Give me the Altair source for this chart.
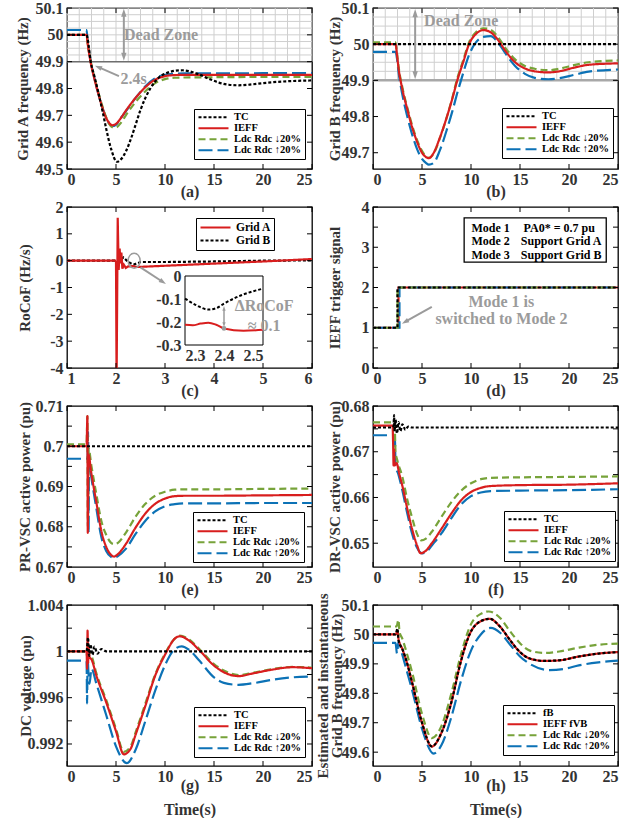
import math
import altair as alt
import pandas as pd

FONT = "Liberation Serif"
W, H = 245, 161
GRAY = "#9b9b9b"
TXT = "#333333"

COLORS = ["#000000", "#d81e1e", "#77a33a", "#0c72b6"]
DASHES = [[3, 2], [1, 0], [7, 4], [14, 5]]
WIDTHS = [2.2, 2.2, 2.4, 2.4]
ORDER = [3, 2, 1, 0]

NAMES = ["TC", "IEFF", "Ldc Rdc ↓20%", "Ldc Rdc ↑20%"]
NAMES_H = ["fB", "IEFF  fVB", "Ldc Rdc ↓20%", "Ldc Rdc ↑20%"]
NAMES_C = ["Grid A", "Grid B"]

# ---------------- tick / label lists ----------------
X25 = [0, 5, 10, 15, 20, 25]
X16 = [1, 2, 3, 4, 5, 6]
A_YL = [49.5, 49.6, 49.7, 49.8, 49.9, 50, 50.1]
B_YL = [49.7, 49.8, 49.9, 50, 50.1]
C_YL = [-4, -3, -2, -1, 0, 1, 2]
D_YL = [0, 1, 2, 3, 4]
D_YT = [0, 0.5, 1, 1.5, 2, 2.5, 3, 3.5, 4]
E_YL = [0.67, 0.68, 0.69, 0.7, 0.71]
E_YT = [0.67, 0.675, 0.68, 0.685, 0.69, 0.695, 0.7, 0.705, 0.71]
F_YL = [0.65, 0.66, 0.67, 0.68]
F_YT = [0.65, 0.655, 0.66, 0.665, 0.67, 0.675, 0.68]
G_YL = [0.992, 0.996, 1, 1.004]
G_YT = [0.992, 0.994, 0.996, 0.998, 1, 1.002, 1.004]
H_YL = [49.6, 49.7, 49.8, 49.9, 50, 50.1]
GRID_T = [0, 1.25, 2.5, 3.75, 5, 6.25, 7.5, 8.75, 10, 11.25, 12.5, 13.75, 15,
          16.25, 17.5, 18.75, 20, 21.25, 22.5, 23.75, 25]
GRID_F = [49.9, 49.925, 49.95, 49.975, 50.0, 50.025, 50.05, 50.075, 50.1]

# ---------------- (a) Grid A frequency ----------------
A_T_TC = [0, 2.0, 2.15, 2.4, 2.8, 3.2, 3.6, 4.0, 4.5, 5.1, 5.6, 6.0, 6.5, 7.0, 7.5, 8.0,
          8.5, 9.0, 9.5, 10, 11, 11.8, 12.5, 13.5, 14.5, 15.5, 16.5, 17.5, 18.5, 20, 22, 25]
A_TC = [50.0, 50.0, 49.975, 49.905, 49.845, 49.785, 49.72, 49.65, 49.575, 49.527, 49.54,
        49.565, 49.61, 49.665, 49.72, 49.765, 49.80, 49.826, 49.845, 49.855, 49.866,
        49.868, 49.864, 49.852, 49.836, 49.822, 49.814, 49.812, 49.814, 49.82, 49.826, 49.83]
A_T = [0, 2.0, 2.1, 2.4, 2.8, 3.2, 3.6, 4.0, 4.3, 4.6, 5.0, 5.5, 6.0, 7.0, 8.0, 9.0, 10.0,
       11.0, 12.0, 15, 20, 25]
A_IEFF = [50.0, 50.0, 49.97, 49.9, 49.835, 49.78, 49.73, 49.69, 49.672, 49.663, 49.668,
          49.69, 49.717, 49.765, 49.805, 49.833, 49.846, 49.85, 49.851, 49.851, 49.851, 49.851]
A_DN = [50.0, 50.0, 49.97, 49.905, 49.84, 49.785, 49.735, 49.692, 49.668, 49.656, 49.655,
        49.672, 49.70, 49.75, 49.79, 49.82, 49.835, 49.84, 49.841, 49.842, 49.843, 49.843]
A_UP = [50.018, 50.018, 49.98, 49.905, 49.838, 49.78, 49.73, 49.69, 49.67, 49.66, 49.665,
        49.69, 49.715, 49.765, 49.808, 49.838, 49.851, 49.855, 49.856, 49.856, 49.857, 49.857]

# ---------------- (b) Grid B frequency ----------------
B_T_TC = [0, 25]
B_TC = [50.0, 50.0]
B_T = [0, 2.3, 2.45, 2.6, 3.0, 3.5, 4.0, 4.5, 5.0, 5.4, 5.7, 6.2, 6.8, 7.55, 8.1, 8.6, 9.2,
       9.8, 10.5, 11.25, 12.0, 12.75, 13.5, 14.5, 15.5, 16.5, 17.9, 19.0, 20.5, 22.0, 25.0]
B_IEFF = [50.0, 50.0, 49.97, 49.935, 49.875, 49.82, 49.77, 49.73, 49.70, 49.688, 49.685,
          49.70, 49.74, 49.80, 49.85, 49.90, 49.95, 50.0, 50.028, 50.039, 50.033, 50.012,
          49.982, 49.95, 49.933, 49.925, 49.922, 49.925, 49.935, 49.943, 49.947]
B_DN = [50.005, 50.005, 49.975, 49.94, 49.88, 49.825, 49.775, 49.735, 49.705, 49.69, 49.686,
        49.698, 49.738, 49.80, 49.852, 49.905, 49.955, 50.005, 50.033, 50.044, 50.04, 50.02,
        49.99, 49.958, 49.94, 49.932, 49.928, 49.932, 49.942, 49.95, 49.955]
B_UP = [49.979, 49.979, 49.96, 49.925, 49.86, 49.80, 49.75, 49.71, 49.683, 49.672, 49.667,
        49.672, 49.705, 49.765, 49.815, 49.865, 49.92, 49.97, 50.005, 50.02, 50.022, 50.005,
        49.975, 49.94, 49.918, 49.907, 49.903, 49.906, 49.915, 49.924, 49.93]

# ---------------- (c) RoCoF ----------------
C_T_A = [1.0, 2.0, 2.012, 2.035, 2.055, 2.075, 2.09, 2.11, 2.13, 2.16, 2.2, 2.25, 2.3, 2.35,
         2.4, 2.5, 3.0, 4.0, 5.0, 6.0]
C_A = [0, 0, -4.6, 1.6, -0.35, 0.45, -0.1, 0.3, -0.3, -0.15, -0.27, -0.21, -0.21, -0.2,
       -0.23, -0.23, -0.19, -0.11, -0.03, 0.06]
C_T_B = [1.0, 2.08, 2.15, 2.22, 2.3, 2.36, 2.4, 2.5, 3.0, 4.0, 5.0, 6.0]
C_B = [0, 0, 0.12, 0.0, -0.1, -0.145, -0.12, -0.05, -0.05, -0.03, 0.0, 0.01]
CI_T_A = [2.3, 2.32, 2.34, 2.36, 2.38, 2.4, 2.45, 2.5]
CI_A = [-0.212, -0.214, -0.207, -0.203, -0.212, -0.228, -0.238, -0.234]
CI_T_B = [2.3, 2.33, 2.36, 2.38, 2.4, 2.45, 2.5]
CI_B = [-0.098, -0.128, -0.146, -0.14, -0.12, -0.08, -0.055]

# ---------------- (d) IEFF trigger ----------------
D_T_TC, D_TC = [0, 2.5, 25], [1, 2, 2]
D_T_IEFF, D_IEFF = [0, 2.6, 25], [1, 2, 2]
D_T_DN, D_DN = [0, 2.5, 25], [1, 2, 2]
D_T_UP, D_UP = [0, 2.7, 25], [1, 2, 2]

# ---------------- (e) PR-VSC power ----------------
E_T_TC, E_TC = [0, 25], [0.70, 0.70]
E_T_IEFF = [0, 2.0, 2.08, 2.12, 2.18, 2.5, 3.0, 3.5, 4.0, 4.5, 4.8, 5.2, 6.0, 7.0, 8.0, 9.0,
            10.0, 11.0, 12.0, 15, 20, 25]
E_IEFF = [0.700, 0.700, 0.7075, 0.6785, 0.698, 0.693, 0.686, 0.679, 0.675, 0.673, 0.6726,
          0.6732, 0.6757, 0.6798, 0.6833, 0.6857, 0.687, 0.6876, 0.6877, 0.6877, 0.6878, 0.6879]
E_T_DN = [0, 2.0, 2.08, 2.13, 2.2, 2.5, 3.0, 3.5, 4.0, 4.5, 4.8, 5.2, 6.0, 7.0, 8.0, 9.0,
          10.0, 11.0, 12.0, 15, 20, 25]
E_DN = [0.7005, 0.7005, 0.7075, 0.680, 0.6995, 0.695, 0.688, 0.6815, 0.678, 0.676, 0.6757,
        0.676, 0.6785, 0.6825, 0.6857, 0.6877, 0.6887, 0.6892, 0.6893, 0.6893, 0.6894, 0.6895]
E_T_UP = [0, 2.1, 2.15, 2.2, 2.25, 2.5, 3.0, 3.5, 4.0, 4.5, 4.8, 5.2, 6.0, 7.0, 8.0, 9.0,
          10.0, 11.0, 12.0, 15, 20, 25]
E_UP = [0.6969, 0.6969, 0.7035, 0.6784, 0.696, 0.692, 0.6845, 0.6775, 0.674, 0.6725, 0.6722,
        0.6727, 0.6745, 0.6782, 0.6815, 0.6838, 0.6851, 0.6856, 0.6858, 0.6858, 0.6859, 0.6859]

# ---------------- (f) DR-VSC power ----------------
F_T_TC = [0, 2.0, 2.1, 2.15, 2.2, 2.3, 2.45, 2.6, 2.8, 3.0, 3.3, 3.6, 4.0, 25]
F_TC = [0.6753, 0.6753, 0.6757, 0.678, 0.6745, 0.677, 0.674, 0.6765, 0.6745, 0.676, 0.6748,
        0.6755, 0.6753, 0.6753]
F_T_IEFF = [0, 2.0, 2.05, 2.1, 2.15, 2.2, 2.4, 2.7, 3.0, 3.5, 4.0, 4.5, 4.85, 5.3, 6.0, 7.0,
            8.0, 9.0, 10.0, 11.0, 12.0, 15, 20, 25]
F_IEFF = [0.6757, 0.6757, 0.672, 0.667, 0.6705, 0.667, 0.6675, 0.665, 0.6625, 0.6575, 0.653,
          0.6495, 0.6478, 0.6482, 0.650, 0.6532, 0.6565, 0.6594, 0.6612, 0.6621, 0.6625,
          0.6627, 0.6628, 0.6631]
F_T_DN = [0, 2.2, 2.3, 2.5, 3.0, 3.5, 4.0, 4.5, 4.9, 5.4, 6.0, 7.0, 8.0, 9.0, 10.0, 11.0,
          12.0, 15, 20, 25]
F_DN = [0.6764, 0.6764, 0.670, 0.668, 0.6645, 0.6595, 0.6555, 0.652, 0.6506, 0.651, 0.6525,
        0.6558, 0.659, 0.6615, 0.6631, 0.664, 0.6643, 0.6644, 0.6645, 0.6646]
F_T_UP = [0, 2.2, 2.25, 2.3, 2.6, 3.0, 3.5, 4.0, 4.5, 5.0, 5.5, 6.0, 7.0, 8.0, 9.0, 10.0,
          11.0, 12.0, 15, 20, 25]
F_UP = [0.6736, 0.6736, 0.672, 0.667, 0.665, 0.6615, 0.6565, 0.652, 0.649, 0.6478, 0.6482,
        0.6495, 0.6522, 0.6555, 0.6585, 0.6603, 0.6611, 0.6614, 0.6615, 0.6616, 0.6618]

# ---------------- (g) DC voltage ----------------
G_T_TC = [0, 2.0, 2.15, 2.25, 2.4, 2.6, 2.8, 3.1, 3.5, 4.0, 25]
G_TC = [1.0, 1.0, 1.0012, 0.9996, 1.0006, 0.9997, 1.0004, 0.9998, 1.0002, 1.0, 1.0]
G_T = [0, 2.0, 2.05, 2.1, 2.15, 2.2, 2.3, 2.5, 3, 4, 5, 5.8, 6.5, 7, 8, 9, 10, 11, 11.5,
       12.5, 13.5, 15, 16, 17.5, 19, 21, 23, 25]
G_IEFF = [1.0, 1.0, 0.9985, 1.0018, 0.999, 1.0003, 0.9995, 0.9993, 0.9979, 0.9956, 0.9931,
          0.99111, 0.9916, 0.9928, 0.9953, 0.9979, 0.9997, 1.0011, 1.0013, 1.0009, 1.0001,
          0.99877, 0.9982, 0.99786, 0.9981, 0.99843, 0.99863, 0.99854]
G_DN = [1.0, 1.0, 0.9995, 1.0005, 0.9998, 1.0, 0.9998, 0.9996, 0.9981, 0.9958, 0.9933,
        0.99132, 0.9918, 0.993, 0.9955, 0.998, 0.9998, 1.0011, 1.00135, 1.001, 1.0002,
        0.9989, 0.99835, 0.99795, 0.99815, 0.99848, 0.99865, 0.9986]
G_T_UP = [0, 2.0, 2.05, 2.1, 2.2, 2.3, 2.5, 3, 4, 5, 6.1, 7, 8, 9, 10, 11, 11.7, 12.5, 13.5,
          15, 16, 17.5, 19, 21, 23, 25]
G_UP = [0.9992, 0.9992, 0.9955, 0.9995, 0.998, 0.9972, 0.9985, 0.9972, 0.9945, 0.9918,
        0.99034, 0.9915, 0.994, 0.9966, 0.9988, 1.0002, 1.00043, 1.0001, 0.9992, 0.99775,
        0.99728, 0.99711, 0.99725, 0.99755, 0.99775, 0.99783]

# ---------------- (h) estimated / instantaneous Grid B frequency ----------------
H_T = [0, 2.3, 2.5, 2.6, 3.0, 3.5, 4.0, 5.0, 6.0, 7.0, 8.0, 8.9, 9.85, 11.0, 11.9, 13.0,
       14.0, 15.0, 16.0, 17.5, 19.0, 21.0, 23.0, 25.0]
H_TC = [50.0, 50.0, 50.02, 49.98, 49.95, 49.90, 49.835, 49.70, 49.62, 49.667, 49.77, 49.9,
        50.0, 50.045, 50.053, 50.025, 49.98, 49.94, 49.918, 49.91, 49.912, 49.925, 49.935, 49.94]
H_IEFF = [50.0, 50.0, 50.01, 49.985, 49.95, 49.90, 49.835, 49.70, 49.619, 49.667, 49.77,
          49.9, 50.0, 50.045, 50.053, 50.025, 49.98, 49.94, 49.918, 49.91, 49.912, 49.925,
          49.935, 49.94]
H_T_DN = [0, 2.4, 2.6, 2.7, 3.0, 3.5, 4.0, 5.0, 6.0, 7.0, 8.0, 9.0, 10.0, 11.0, 11.8, 13.0,
          14.0, 15.0, 16.0, 17.5, 19.0, 21.0, 23.0, 25.0]
H_DN = [50.027, 50.027, 50.05, 50.01, 49.985, 49.93, 49.87, 49.73, 49.648, 49.69, 49.80,
        49.935, 50.035, 50.07, 50.078, 50.055, 50.01, 49.97, 49.945, 49.937, 49.942, 49.955,
        49.965, 49.969]
H_T_UP = [0, 2.3, 2.45, 2.6, 3.0, 3.5, 4.0, 5.0, 6.2, 7.0, 8.0, 9.0, 10.0, 11.0, 12.0, 13.0,
          14.0, 15.0, 16.0, 18.0, 19.5, 21.0, 23.0, 25.0]
H_UP = [49.971, 49.971, 49.935, 49.975, 49.93, 49.87, 49.81, 49.68, 49.595, 49.625, 49.72,
        49.845, 49.945, 50.0, 50.022, 50.005, 49.965, 49.925, 49.9, 49.879, 49.883, 49.895,
        49.905, 49.911]

# ---------------- annotation anchors (data units) ----------------
A_DZ = (5.8, 49.903, 5.8, 50.097)
A_DZ_TXT = (9.6, 50.0)
A_24 = (5.3, 49.846, 2.85, 49.885)
A_24_TXT = (6.8, 49.835)
B_DZ = (4.3, 49.903, 4.3, 50.097)
B_DZ_TXT = (9.0, 50.064)
C_ELL = (2.37, 0.0)
C_ARR = (2.5, -0.25, 3.02, -0.87)
CI_TXT = [(2.503, -0.13, "ΔRoCoF"), (2.503, -0.217, "≈ 0.1")]   # inset units
CI_DARR = (2.4, -0.13, 2.4, -0.222)
CI_DOT = (2.4, -0.228)
D_BOX = (9.3, 2.63, 23.8, 3.73)
D_TAB = [(12.0, 3.49, "Mode 1"), (19.0, 3.49, "PA0* = 0.7 pu"),
         (12.0, 3.15, "Mode 2"), (19.2, 3.15, "Support Grid A"),
         (12.0, 2.81, "Mode 3"), (19.2, 2.81, "Support Grid B")]
D_TXT = [(13.1, 1.63, "Mode 1 is"), (13.1, 1.21, "switched to Mode 2")]
D_ARR = (6.0, 1.52, 2.95, 1.10)

MINUS = "replace(datum.label, '\u2212', '-')"


class Frame:
    def __init__(self, xdom, ydom, xaxis, yaxis, xrange=None, yrange=None):
        self.xdom, self.ydom = xdom, ydom
        self.xaxis, self.yaxis = xaxis, yaxis
        self.custom = xrange is not None
        self.xr = xrange if xrange else [0, W]
        self.yr = yrange if yrange else [H, 0]

    def _sc(self, dom, rng):
        if self.custom:
            return alt.Scale(domain=dom, range=rng, nice=False, zero=False)
        return alt.Scale(domain=dom, nice=False, zero=False)

    def X(self):
        return alt.X("x:Q", scale=self._sc(self.xdom, self.xr), axis=self.xaxis)

    def Y(self):
        return alt.Y("y:Q", scale=self._sc(self.ydom, self.yr), axis=self.yaxis)

    def px(self, x, y):
        fx = (x - self.xdom[0]) / (self.xdom[1] - self.xdom[0])
        fy = (y - self.ydom[0]) / (self.ydom[1] - self.ydom[0])
        return (self.xr[0] + fx * (self.xr[1] - self.xr[0]),
                self.yr[0] + fy * (self.yr[1] - self.yr[0]))

    def inv(self, px, py):
        fx = (px - self.xr[0]) / (self.xr[1] - self.xr[0])
        fy = (py - self.yr[0]) / (self.yr[1] - self.yr[0])
        return (self.xdom[0] + fx * (self.xdom[1] - self.xdom[0]),
                self.ydom[0] + fy * (self.ydom[1] - self.ydom[0]))


def xaxis(title, values=X25, ty=22, lh=None, **kw):
    a = dict(values=values, format="d", title=title, titleY=ty, titleBaseline="middle")
    if lh:
        a["titleLineHeight"] = lh
    a.update(kw)
    return alt.Axis(**a)


def yaxis(values, fmt, title, tx, **kw):
    return alt.Axis(values=values, format=fmt, title=title, titleX=tx,
                    titleBaseline="middle", **kw)


def legend(lx, ly, fs=10.5, ch=10.5):
    return alt.Legend(orient="none", legendX=lx, legendY=ly, title=None,
                      fillColor="white", strokeColor="black", padding=3,
                      labelFont=FONT, labelFontSize=fs, labelFontWeight="bold",
                      labelColor="black", symbolType="stroke", symbolSize=900,
                      symbolStrokeWidth=2, labelOffset=4, rowPadding=0, clipHeight=ch)


def lines(fr, names, ts, vs, leg, interp="monotone", colors=COLORS, dashes=DASHES,
          widths=WIDTHS, order=ORDER):
    rows = []
    for k in order:
        for t, v in zip(ts[k], vs[k]):
            rows.append({"x": t, "y": v, "s": names[k]})
    df = pd.DataFrame(rows)
    return alt.Chart(df).mark_line(clip=True, interpolate=interp).encode(
        x=fr.X(), y=fr.Y(),
        color=alt.Color("s:N", scale=alt.Scale(domain=names, range=colors), legend=leg),
        strokeDash=alt.StrokeDash("s:N", scale=alt.Scale(domain=names, range=dashes), legend=leg),
        strokeWidth=alt.StrokeWidth("s:N", scale=alt.Scale(domain=names, range=widths), legend=None),
    )


def ticks(fr, xt, yt, L=5):
    dx = pd.DataFrame({"x": xt})
    dy = pd.DataFrame({"y": yt})
    m = dict(color="black", strokeWidth=1)
    return [
        alt.Chart(dx).mark_rule(**m).encode(x=fr.X(), y=alt.value(H), y2=alt.value(H - L)),
        alt.Chart(dx).mark_rule(**m).encode(x=fr.X(), y=alt.value(0), y2=alt.value(L)),
        alt.Chart(dy).mark_rule(**m).encode(y=fr.Y(), x=alt.value(0), x2=alt.value(L)),
        alt.Chart(dy).mark_rule(**m).encode(y=fr.Y(), x=alt.value(W - L), x2=alt.value(W)),
    ]


HEAD = "M0,0 L0.6,1.8 L-0.6,1.8 Z"


def arrow(fr, seg, heads=("end",), color=GRAY, width=2, size=64):
    x0, y0, x1, y1 = seg
    p0, p1 = fr.px(x0, y0), fr.px(x1, y1)
    dx, dy = p1[0] - p0[0], p1[1] - p0[1]
    ln = math.hypot(dx, dy)
    ux, uy = dx / ln, dy / ln
    hl = 1.8 * math.sqrt(size) / 2 * 0.7
    a, b = p0, p1
    if "start" in heads:
        a = (p0[0] + ux * hl, p0[1] + uy * hl)
    if "end" in heads:
        b = (p1[0] - ux * hl, p1[1] - uy * hl)
    A, B = fr.inv(*a), fr.inv(*b)
    df = pd.DataFrame({"x": [A[0]], "y": [A[1]], "x2": [B[0]], "y2": [B[1]]})
    out = [alt.Chart(df).mark_rule(color=color, strokeWidth=width).encode(
        x=fr.X(), y=fr.Y(), x2="x2:Q", y2="y2:Q")]
    pts = []
    if "end" in heads:
        pts.append((x1, y1, math.degrees(math.atan2(ux, -uy)) % 360))
    if "start" in heads:
        pts.append((x0, y0, math.degrees(math.atan2(-ux, uy)) % 360))
    for x, y, ang in pts:
        out.append(alt.Chart(pd.DataFrame({"x": [x], "y": [y]})).mark_point(
            shape=HEAD, filled=True, color=color, size=size, angle=ang, opacity=1,
            strokeWidth=0).encode(x=fr.X(), y=fr.Y()))
    return out


def texts(fr, items, color=GRAY, size=16, align="center"):
    df = pd.DataFrame({"x": [i[0] for i in items], "y": [i[1] for i in items],
                       "t": [i[2] for i in items]})
    return alt.Chart(df).mark_text(font=FONT, fontSize=size, fontWeight="bold", color=color,
                                   align=align, baseline="middle").encode(
        x=fr.X(), y=fr.Y(), text="t:N")


def grid(fr, line_color, line_width):
    dv = pd.DataFrame({"x": GRID_T, "y": [GRID_F[0]] * len(GRID_T), "y2": [GRID_F[-1]] * len(GRID_T)})
    dh = pd.DataFrame({"y": GRID_F, "x": [0] * len(GRID_F), "x2": [25] * len(GRID_F)})
    d9 = pd.DataFrame({"y": [GRID_F[0]], "x": [0], "x2": [25]})
    g = dict(color="#cfcfcf", strokeWidth=1)
    return [
        alt.Chart(dv).mark_rule(**g).encode(x=fr.X(), y=fr.Y(), y2="y2:Q"),
        alt.Chart(dh).mark_rule(**g).encode(y=fr.Y(), x=fr.X(), x2="x2:Q"),
        alt.Chart(d9).mark_rule(color=line_color, strokeWidth=line_width).encode(
            y=fr.Y(), x=fr.X(), x2="x2:Q"),
    ]


# ---------------- panel (a) ----------------
fa = Frame([0, 25], [49.5, 50.1], xaxis("(a)"),
           yaxis(A_YL, ".1~f", "Grid A frequency (Hz)", -45))
pa = alt.layer(
    *grid(fa, "#6e6e6e", 1.5),
    lines(fa, NAMES, [A_T_TC, A_T, A_T, A_T], [A_TC, A_IEFF, A_DN, A_UP], legend(127, 101)),
    *ticks(fa, X25, A_YL),
    texts(fa, [(A_DZ_TXT[0], A_DZ_TXT[1], "Dead Zone"), (A_24_TXT[0], A_24_TXT[1], "2.4s")]),
    *arrow(fa, A_DZ, heads=("start", "end"), size=80),
    *arrow(fa, A_24, size=64),
).properties(width=W, height=H)

# ---------------- panel (b) ----------------
fb = Frame([0, 25], [49.655, 50.1], xaxis("(b)"),
           yaxis(B_YL, ".1~f", "Grid B frequency (Hz)", -39))
pb = alt.layer(
    *grid(fb, "#a8a8a8", 2.5),
    lines(fb, NAMES, [B_T_TC, B_T, B_T, B_T], [B_TC, B_IEFF, B_DN, B_UP], legend(129, 100)),
    *ticks(fb, X25, B_YL),
    texts(fb, [(B_DZ_TXT[0], B_DZ_TXT[1], "Dead Zone")]),
    *arrow(fb, B_DZ, heads=("start", "end"), size=80),
).properties(width=W, height=H)

# ---------------- panel (c) ----------------
fc = Frame([1, 6], [-4, 2], xaxis("(c)", values=X16),
           yaxis(C_YL, "d", "RoCoF (Hz/s)", -43, labelExpr=MINUS))
fi = Frame([2.3, 2.5], [-0.3, 0.0],
           alt.Axis(values=[2.3, 2.4, 2.5], format=".1f", title=None, orient="bottom",
                    offset=-23, labelPadding=2),
           alt.Axis(values=[-0.3, -0.2, -0.1, 0], format=".1~f", title=None, orient="left",
                    offset=-118, labelPadding=4, labelExpr=MINUS),
           xrange=[118, 196], yrange=[138, 69])
ell = alt.Chart(pd.DataFrame({"x": [C_ELL[0]], "y": [C_ELL[1]]})).mark_point(
    shape="M0,-1.25 A1,1.25 0 1,1 0,1.25 A1,1.25 0 1,1 0,-1.25 Z", size=144,
    filled=False, color=GRAY, strokeWidth=1.5, opacity=1).encode(x=fc.X(), y=fc.Y())
main_c = alt.layer(
    lines(fc, NAMES_C, [C_T_A, C_T_B], [C_A, C_B],
          legend(129, 11, fs=11.5, ch=13),
          interp="linear", colors=[COLORS[1], COLORS[0]], dashes=[[1, 0], [3, 2]],
          widths=[2.2, 2.2], order=[1, 0]),
    *ticks(fc, X16, C_YL),
    ell,
    *arrow(fc, C_ARR, size=64),
)
box_i = alt.Chart(pd.DataFrame({"x": [2.3], "x2": [2.5], "y": [-0.3], "y2": [0.0]})).mark_rect(
    fill="white", stroke="black", strokeWidth=1).encode(x=fi.X(), x2="x2:Q", y=fi.Y(), y2="y2:Q")
inset_c = alt.layer(
    box_i,
    alt.Chart(pd.DataFrame({"x": CI_T_A, "y": CI_A})).mark_line(
        color=COLORS[1], strokeWidth=2, interpolate="monotone").encode(x=fi.X(), y=fi.Y()),
    alt.Chart(pd.DataFrame({"x": CI_T_B, "y": CI_B})).mark_line(
        color=COLORS[0], strokeWidth=2, strokeDash=[3, 2], interpolate="monotone").encode(
        x=fi.X(), y=fi.Y()),
    *arrow(fi, CI_DARR, heads=("start", "end"), size=30, width=1.5),
    alt.Chart(pd.DataFrame({"x": [CI_DOT[0]], "y": [CI_DOT[1]]})).mark_point(
        filled=True, color=GRAY, size=22, opacity=1).encode(x=fi.X(), y=fi.Y()),
    texts(fi, CI_TXT),
)
pc = alt.layer(main_c, inset_c).resolve_scale(x="independent", y="independent").properties(
    width=W, height=H)

# ---------------- panel (d) ----------------
fd = Frame([0, 25], [0, 4], xaxis("(d)"), yaxis(D_YL, "d", "IEFF trigger signal", -39))
tab_box = alt.Chart(pd.DataFrame({"x": [D_BOX[0]], "y": [D_BOX[1]], "x2": [D_BOX[2]],
                                  "y2": [D_BOX[3]]})).mark_rect(
    fill="white", stroke="black", strokeWidth=1.3).encode(x=fd.X(), y=fd.Y(), x2="x2:Q", y2="y2:Q")
pd_ = alt.layer(
    lines(fd, NAMES, [D_T_TC, D_T_IEFF, D_T_DN, D_T_UP], [D_TC, D_IEFF, D_DN, D_UP], None,
          interp="step-after", order=[1, 3, 2, 0]),
    *ticks(fd, X25, D_YT),
    tab_box,
    texts(fd, D_TAB, color="black", size=12),
    texts(fd, D_TXT),
    *arrow(fd, D_ARR, size=64),
).properties(width=W, height=H)

# ---------------- panel (e) ----------------
fe = Frame([0, 25], [0.67, 0.71], xaxis("(e)"),
           yaxis(E_YL, ".2~f", "PR-VSC active power (pu)", -43))
pe = alt.layer(
    lines(fe, NAMES, [E_T_TC, E_T_IEFF, E_T_DN, E_T_UP], [E_TC, E_IEFF, E_DN, E_UP],
          legend(126, 106)),
    *ticks(fe, X25, E_YT),
).properties(width=W, height=H)

# ---------------- panel (f) ----------------
ff = Frame([0, 25], [0.6448, 0.68], xaxis("(f)"),
           yaxis(F_YL, ".2~f", "DR-VSC active power (pu)", -39))
pf = alt.layer(
    lines(ff, NAMES, [F_T_TC, F_T_IEFF, F_T_DN, F_T_UP], [F_TC, F_IEFF, F_DN, F_UP],
          legend(131, 105)),
    *ticks(ff, X25, F_YT),
).properties(width=W, height=H)

# ---------------- panel (g) ----------------
fg = Frame([0, 25], [0.9901, 1.004], xaxis(["(g)", "Time(s)"], ty=19, lh=24),
           yaxis(G_YL, ".3~f", "DC voltage (pu)", -42))
pg = alt.layer(
    lines(fg, NAMES, [G_T_TC, G_T, G_T, G_T_UP], [G_TC, G_IEFF, G_DN, G_UP], legend(127, 102)),
    *ticks(fg, X25, G_YT),
).properties(width=W, height=H)

# ---------------- panel (h) ----------------
fh = Frame([0, 25], [49.553, 50.1], xaxis(["(h)", "Time(s)"], ty=19, lh=24),
           yaxis(H_YL, ".1~f", ["Estimated and instantaneous", "Grid B frequency (Hz)"], -51,
                 titleLineHeight=14))
ph = alt.layer(
    lines(fh, NAMES_H, [H_T, H_T, H_T_DN, H_T_UP], [H_TC, H_IEFF, H_DN, H_UP], legend(130, 100)),
    *ticks(fh, X25, H_YL),
).properties(width=W, height=H)

chart = alt.concat(
    pa, pb, pc, pd_, pe, pf, pg, ph,
    columns=2, spacing={"row": 38, "column": 61}, bounds="flush",
).resolve_scale(
    color="independent", strokeDash="independent", strokeWidth="independent"
).resolve_legend(
    color="independent", strokeDash="independent"
).properties(
    padding={"left": 14, "top": -1, "right": 4, "bottom": 0}
).configure(font=FONT, background="white").configure_view(
    stroke="black", strokeWidth=1.3
).configure_axis(
    labelFont=FONT, labelFontSize=16, labelFontWeight="bold", labelColor=TXT,
    titleFont=FONT, titleFontWeight="bold", titleColor=TXT,
    ticks=False, domain=False, grid=False,
).configure_axisX(labelPadding=2, titleFontSize=16).configure_axisY(
    labelPadding=4, titleFontSize=15)

chart.save("out.html", embed_options={"renderer": "svg", "actions": False})
